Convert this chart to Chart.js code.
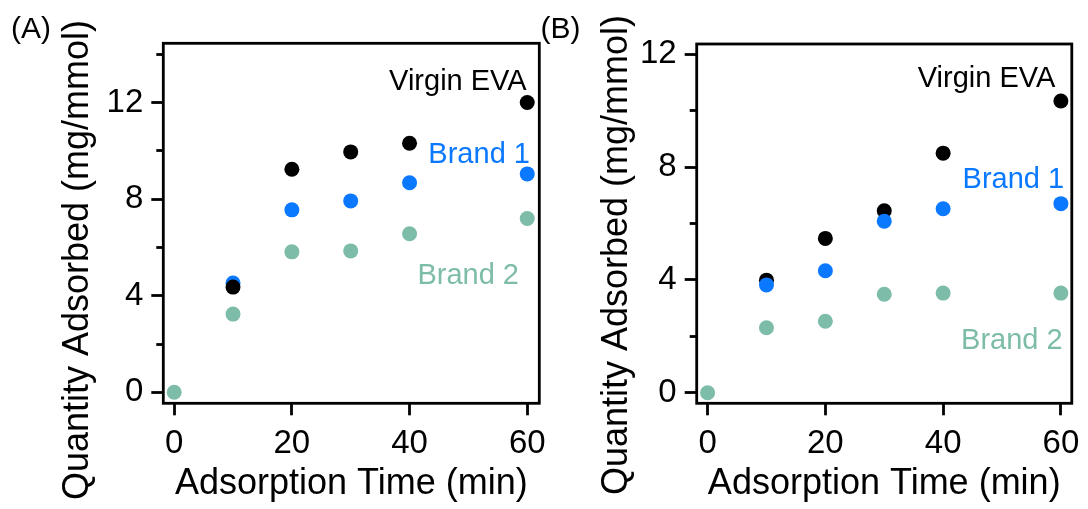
<!DOCTYPE html>
<html>
<head>
<meta charset="utf-8">
<script src="https://cdn.jsdelivr.net/npm/chart.js@4.4.1/dist/chart.umd.min.js"></script>
<style>
  html, body { margin: 0; padding: 0; background: #fff; }
  body { width: 1088px; height: 509px; position: relative; overflow: hidden; }
  .panel { position: absolute; top: 0; width: 560px; height: 509px; }
  #panelA { left: 0; }
  #panelB { left: 528px; }
</style>
</head>
<body>
<div class="panel" id="panelA"><canvas id="chartA"></canvas></div>
<div class="panel" id="panelB"><canvas id="chartB"></canvas></div>
<script>
// Datos (en t = 0 solo se ve el punto verde)
const adsorptionTime = [0, 10, 20, 30, 40, 60];

const virginA = [null, 4.36, 9.24, 9.96, 10.32, 12.01];
const brand1A = [null, 4.53, 7.56, 7.93, 8.68, 9.05];
const brand2A = [0, 3.24, 5.82, 5.86, 6.57, 7.20];

const virginB = [null, 3.99, 5.47, 6.45, 8.49, 10.34];
const brand1B = [null, 3.82, 4.32, 6.08, 6.52, 6.70];
const brand2B = [0, 2.30, 2.53, 3.49, 3.53, 3.53];

const xTickValues = [0, 20, 40, 60];
const yTickValuesA = [0, 2, 4, 6, 8, 10, 12, 14];
const yTickValuesB = [0, 2, 4, 6, 8, 10, 12];
const yLabelValues = [0, 4, 8, 12];

const FONT = "'Liberation Sans', Arial, Helvetica, sans-serif";
const BLACK = '#000000';
const BLUE = '#0a78ff';
const GREEN = '#7dbca8';

function toPoints(ys) {
  return adsorptionTime
    .map((t, i) => ({ x: t, y: ys[i] }))
    .filter(p => p.y !== null);
}

// marco, etiqueta del panel, título del eje Y y nombres de las series
const panelText = {
  id: 'panelText',
  beforeDatasetsDraw(chart) {
    const { ctx, chartArea } = chart;
    ctx.save();
    ctx.lineWidth = 2.8;
    ctx.strokeStyle = BLACK;
    ctx.strokeRect(chartArea.left, chartArea.top, chartArea.width, chartArea.height);
    ctx.restore();
  },
  afterDraw(chart, args, opts) {
    const { ctx, scales } = chart;
    ctx.save();
    ctx.fillStyle = BLACK;
    ctx.textBaseline = 'alphabetic';
    ctx.textAlign = 'left';
    ctx.font = `30px ${FONT}`;
    ctx.fillText(opts.panel, opts.panelX, opts.panelY);

    ctx.save();
    ctx.translate(opts.yTitleX, opts.yTitleY);
    ctx.rotate(-Math.PI / 2);
    ctx.textAlign = 'center';
    ctx.font = `36px ${FONT}`;
    ctx.fillText(opts.yTitle, 0, 0);
    ctx.restore();

    ctx.font = `29px ${FONT}`;
    ctx.textAlign = 'right';
    opts.notes.forEach(n => {
      ctx.fillStyle = n.color;
      ctx.fillText(n.text, scales.x.getPixelForValue(n.x), scales.y.getPixelForValue(n.y));
    });
    ctx.restore();
  }
};

function isMajor(c) {
  return c.tick && yLabelValues.includes(c.tick.value);
}

function crearGrafico(id, datasets, cfg) {
  return new Chart(document.getElementById(id), {
    type: 'scatter',
    data: { datasets },
    plugins: [panelText],
    options: {
      responsive: true,
      maintainAspectRatio: false,
      animation: false,
      events: [],
      layout: { padding: { left: 0, top: cfg.top, right: cfg.right, bottom: 0 } },
      elements: { point: { radius: 7.5, borderWidth: 0, hoverRadius: 7.5 } },
      plugins: {
        legend: { display: false },
        tooltip: { enabled: false },
        panelText: cfg.text
      },
      scales: {
        x: {
          type: 'linear',
          min: -1.85,
          max: cfg.xMax,
          afterBuildTicks: s => { s.ticks = xTickValues.map(v => ({ value: v })); },
          afterFit: s => { s.height = 105.7; },
          border: { display: false },
          grid: { drawOnChartArea: false, tickLength: 12, tickWidth: 2.8, tickColor: BLACK },
          ticks: { color: BLACK, font: { family: FONT, size: 33 }, padding: 8.4, maxRotation: 0, autoSkip: false },
          title: {
            display: true,
            text: 'Adsorption Time (min)',
            color: BLACK,
            font: { family: FONT, size: 36 },
            padding: { top: 0, bottom: 3.2 }
          }
        },
        y: {
          type: 'linear',
          min: cfg.yMin,
          max: cfg.yMax,
          afterBuildTicks: s => { s.ticks = cfg.yTicks.map(v => ({ value: v })); },
          afterFit: s => { s.width = cfg.yWidth; },
          border: { display: false },
          grid: {
            drawOnChartArea: false,
            tickLength: 12,
            tickWidth: 2.8,
            tickColor: BLACK,
            tickBorderDash: c => isMajor(c) ? [] : [7, 5],
            tickBorderDashOffset: c => isMajor(c) ? 0 : 7
          },
          ticks: {
            color: BLACK,
            font: { family: FONT, size: 33 },
            padding: 8,
            autoSkip: false,
            callback: v => yLabelValues.includes(v) ? String(v) : ''
          }
        }
      }
    }
  });
}

window.addEventListener('DOMContentLoaded', () => {
  // Panel A: negro sobre azul
  crearGrafico('chartA', [
    { label: 'Brand 2', data: toPoints(brand2A), backgroundColor: GREEN },
    { label: 'Virgin EVA', data: toPoints(virginA), backgroundColor: BLACK },
    { label: 'Brand 1', data: toPoints(brand1A), backgroundColor: BLUE }
  ], {
    top: 43.3, right: 20.7, yWidth: 163.3,
    xMax: 62.05, yMin: -0.455, yMax: 14.46, yTicks: yTickValuesA,
    text: {
      panel: '(A)', panelX: 11, panelY: 38,
      yTitle: 'Quantity Adsorbed (mg/mmol)', yTitleX: 88, yTitleY: 260,
      notes: [
        { text: 'Virgin EVA', x: 59.9, y: 12.52, color: BLACK },
        { text: 'Brand 1', x: 60.46, y: 9.49, color: BLUE },
        { text: 'Brand 2', x: 58.6, y: 4.48, color: GREEN }
      ]
    }
  });

  // Panel B: azul sobre negro
  crearGrafico('chartB', [
    { label: 'Brand 2', data: toPoints(brand2B), backgroundColor: GREEN },
    { label: 'Brand 1', data: toPoints(brand1B), backgroundColor: BLUE },
    { label: 'Virgin EVA', data: toPoints(virginB), backgroundColor: BLACK }
  ], {
    top: 44, right: 12, yWidth: 168.7,
    xMax: 61.85, yMin: -0.376, yMax: 12.36, yTicks: yTickValuesB,
    text: {
      panel: '(B)', panelX: 12.5, panelY: 38,
      yTitle: 'Quantity Adsorbed (mg/mmol)', yTitleX: 98.5, yTitleY: 255,
      notes: [
        { text: 'Virgin EVA', x: 59.05, y: 10.84, color: BLACK },
        { text: 'Brand 1', x: 60.55, y: 7.24, color: BLUE },
        { text: 'Brand 2', x: 60.3, y: 1.54, color: GREEN }
      ]
    }
  });
});
</script>
</body>
</html>
